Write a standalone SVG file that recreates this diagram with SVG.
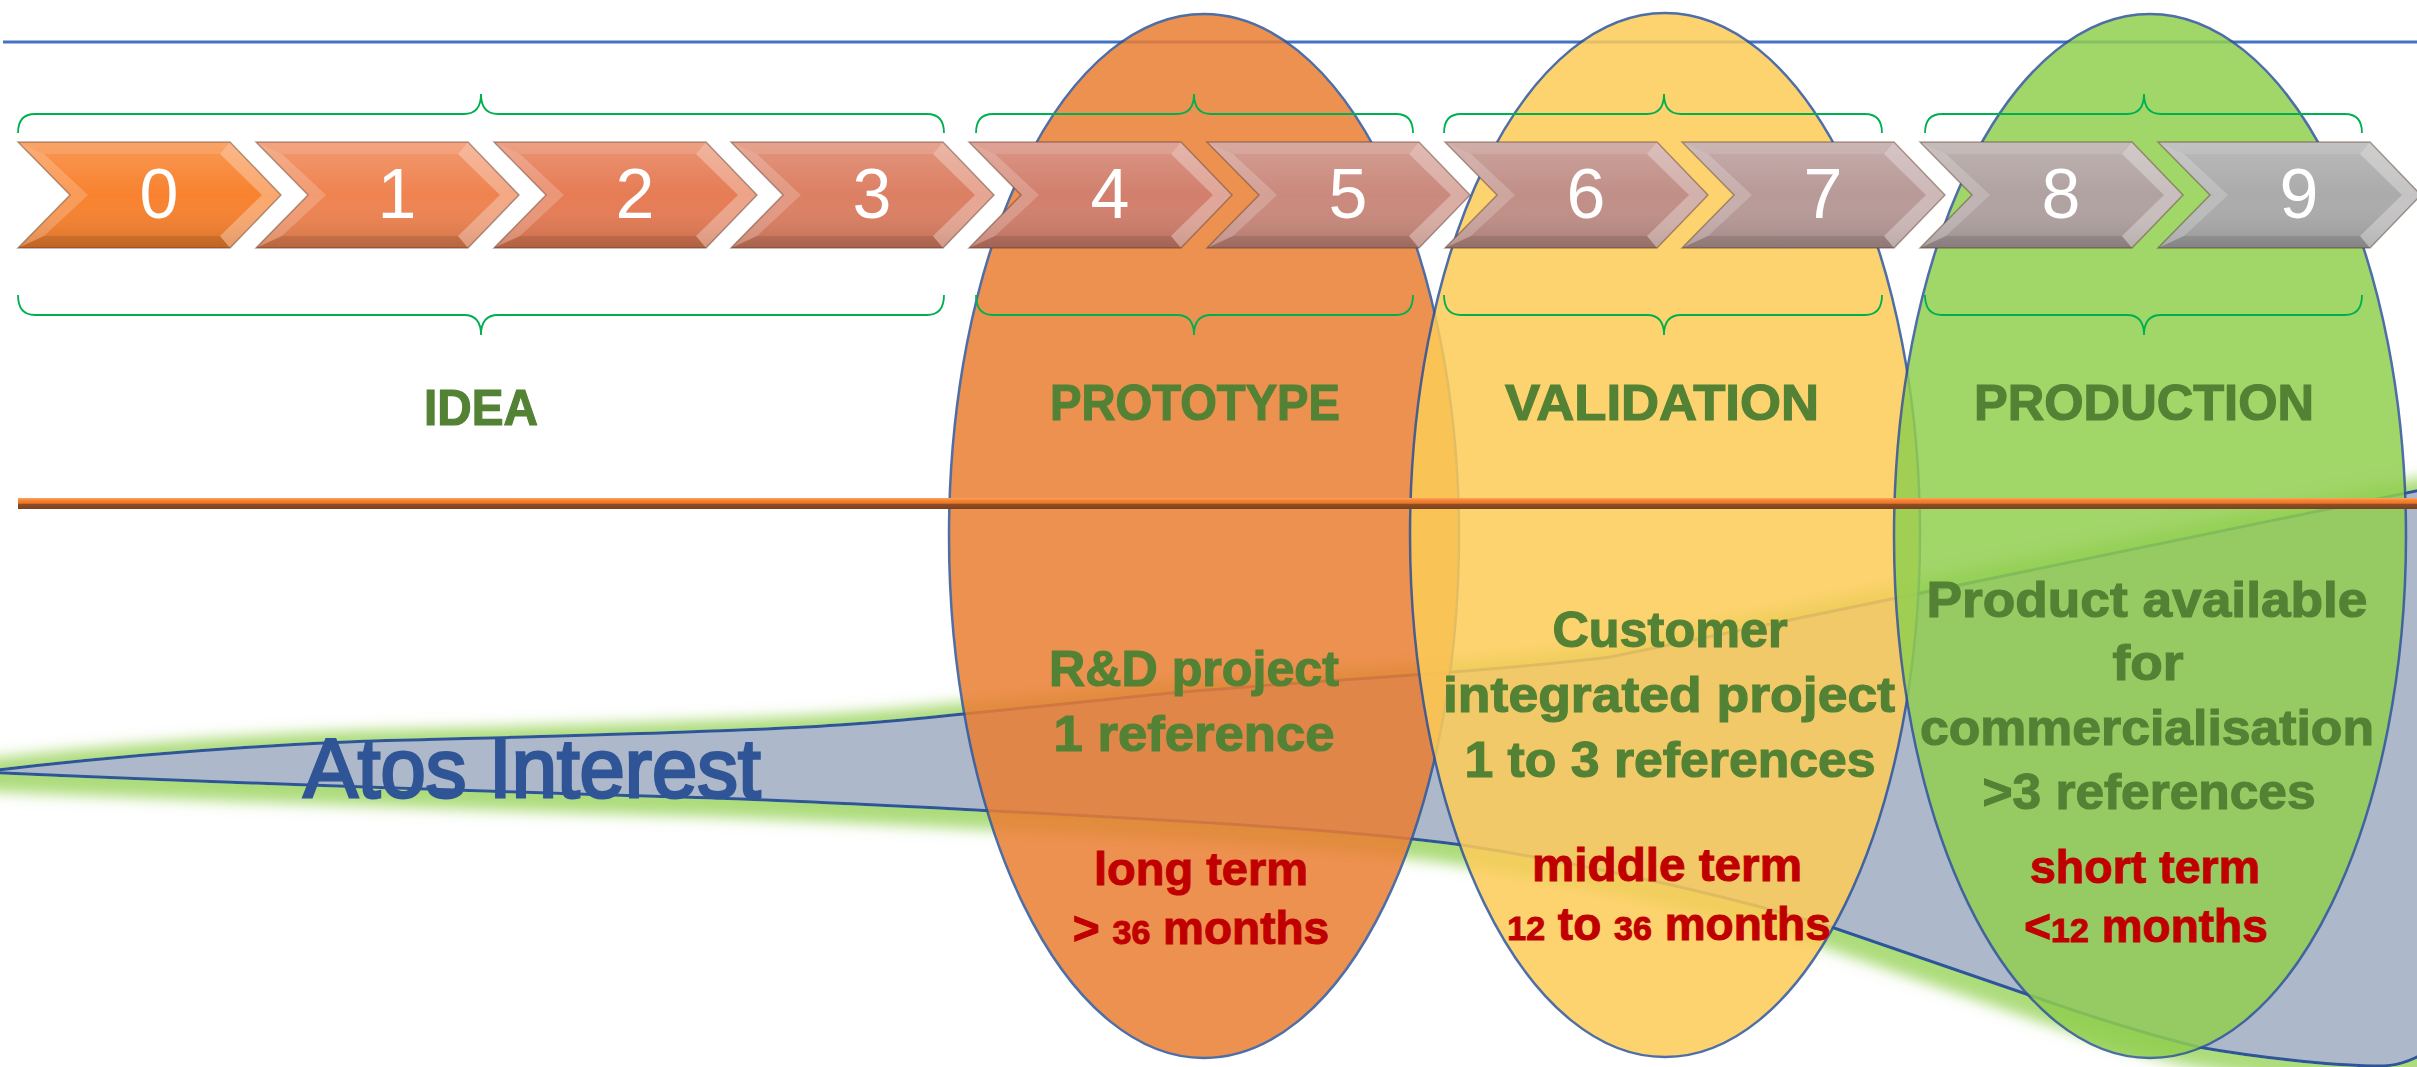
<svg xmlns="http://www.w3.org/2000/svg" xmlns:xlink="http://www.w3.org/1999/xlink" width="2417" height="1067" viewBox="0 0 2417 1067">
<style>
.num{font-family:"Liberation Sans",Arial,sans-serif;font-size:70px;fill:#fff;text-anchor:middle}
.phase{font-family:"Liberation Sans",Arial,sans-serif;font-weight:bold;font-size:50px;fill:#548235;stroke:#548235;stroke-width:1.2;text-anchor:middle}
.gt{font-family:"Liberation Sans",Arial,sans-serif;font-weight:bold;font-size:50px;fill:#548235;stroke:#548235;stroke-width:1.2;text-anchor:middle}
.rt{font-family:"Liberation Sans",Arial,sans-serif;font-weight:bold;font-size:46px;fill:#C00000;stroke:#C00000;stroke-width:1;text-anchor:middle}
.sm{font-size:34px}
.brace{fill:none;stroke:#00B050;stroke-width:1.8}
.ell{stroke:#2F5597;stroke-width:2.5;opacity:0.85}
.fl{fill:#fff;opacity:0.2}
.fr{fill:#fff;opacity:0.3}
.ft{fill:#fff;opacity:0.12}
.fb{fill:#000;opacity:0.1}
.ol{fill:none;stroke:#5a3a2a;stroke-opacity:0.45;stroke-width:1.5}
</style>
<defs>
<path id="chev" d="M0,0 H212 L263,53 L212,106 H0 L52,53 Z"/>
<path id="fl" d="M0,0 L52,53 L0,106 L26,94 L70,53 L26,12 Z"/>
<path id="fr" d="M212,0 L263,53 L212,106 L202,94 L244,53 L202,12 Z"/>
<path id="ft" d="M0,0 H212 L202,12 H26 Z"/>
<path id="fb" d="M0,106 H212 L202,94 H26 Z"/>
<linearGradient id="sh" x1="0" y1="0" x2="0" y2="1">
<stop offset="0" stop-color="#fff" stop-opacity="0.18"/>
<stop offset="0.5" stop-color="#fff" stop-opacity="0"/>
<stop offset="1" stop-color="#000" stop-opacity="0.14"/>
</linearGradient>
<linearGradient id="oline" x1="0" y1="0" x2="0" y2="1">
<stop offset="0" stop-color="#FCA569"/>
<stop offset="0.2" stop-color="#F7852F"/>
<stop offset="0.48" stop-color="#EA7728"/>
<stop offset="0.55" stop-color="#8F4E26"/>
<stop offset="1" stop-color="#7A4120"/>
</linearGradient>
<filter id="glow" x="-5%" y="-40%" width="110%" height="180%">
<feMorphology in="SourceAlpha" operator="dilate" radius="13" result="d"/>
<feGaussianBlur in="d" stdDeviation="7" result="b"/>
<feOffset in="b" dy="4" result="o"/>
<feFlood flood-color="#92D050" flood-opacity="0.75"/>
<feComposite in2="o" operator="in" result="g"/>
<feMerge><feMergeNode in="g"/><feMergeNode in="SourceGraphic"/></feMerge>
</filter>
</defs>
<rect width="2417" height="1067" fill="#fff"/>
<line id="top-line" x1="3" y1="42" x2="2417" y2="42" stroke="#4472C4" stroke-width="3"/>
<g id="atos-interest">
<path filter="url(#glow)" fill="#ADB9CA" stroke="#2F5597" stroke-width="3" d="M -20,772 C 120,755 280,743 408,740 C 560,736 700,733 804,727 C 900,722 1000,710 1161,694 C 1300,681 1480,673 1610,657 L 2430,488 L 2430,1050 C 2410,1062 2395,1067 2372,1066 C 2330,1065 2260,1058 2198,1047 C 2130,1030 2060,1006 2029,995 L 1834,928 C 1740,899 1600,866 1462,845 C 1380,834 1250,825 1161,820 C 1000,811 850,803 714,798 C 500,792 250,784 -20,772 Z"/>
<text x="532" y="797" font-family="'Liberation Sans',Arial,sans-serif" font-size="84" fill="#2F5597" stroke="#2F5597" stroke-width="3" text-anchor="middle" textLength="457" lengthAdjust="spacingAndGlyphs">Atos Interest</text>
</g>
<g id="ellipse-prototype">
<ellipse class="ell" cx="1204" cy="536" rx="255" ry="522" fill="#EB7E33"/>
</g>
<g id="ellipse-validation">
<ellipse class="ell" cx="1665" cy="535" rx="255" ry="522" fill="#FDCC58"/>
</g>
<g id="ellipse-production">
<ellipse class="ell" cx="2150" cy="536" rx="256" ry="522" fill="#91CF50"/>
</g>
<rect id="orange-line" x="18" y="498" width="2399" height="11" fill="url(#oline)"/>
<g id="chevron-0" transform="translate(18,142)"><use href="#chev" fill="#F8822F"/><use href="#chev" fill="url(#sh)"/><use href="#fl" class="fl"/><use href="#fr" class="fr"/><use href="#ft" class="ft"/><use href="#fb" class="fb"/><use href="#chev" class="ol"/><text class="num" x="141" y="76">0</text></g>
<g id="chevron-1" transform="translate(256,142)"><use href="#chev" fill="#EF8350"/><use href="#chev" fill="url(#sh)"/><use href="#fl" class="fl"/><use href="#fr" class="fr"/><use href="#ft" class="ft"/><use href="#fb" class="fb"/><use href="#chev" class="ol"/><text class="num" x="141" y="76">1</text></g>
<g id="chevron-2" transform="translate(494,142)"><use href="#chev" fill="#E67C55"/><use href="#chev" fill="url(#sh)"/><use href="#fl" class="fl"/><use href="#fr" class="fr"/><use href="#ft" class="ft"/><use href="#fb" class="fb"/><use href="#chev" class="ol"/><text class="num" x="141" y="76">2</text></g>
<g id="chevron-3" transform="translate(731,142)"><use href="#chev" fill="#DC7F63"/><use href="#chev" fill="url(#sh)"/><use href="#fl" class="fl"/><use href="#fr" class="fr"/><use href="#ft" class="ft"/><use href="#fb" class="fb"/><use href="#chev" class="ol"/><text class="num" x="141" y="76">3</text></g>
<g id="chevron-4" transform="translate(969,142)"><use href="#chev" fill="#D27F6C"/><use href="#chev" fill="url(#sh)"/><use href="#fl" class="fl"/><use href="#fr" class="fr"/><use href="#ft" class="ft"/><use href="#fb" class="fb"/><use href="#chev" class="ol"/><text class="num" x="141" y="76">4</text></g>
<g id="chevron-5" transform="translate(1207,142)"><use href="#chev" fill="#CA897C"/><use href="#chev" fill="url(#sh)"/><use href="#fl" class="fl"/><use href="#fr" class="fr"/><use href="#ft" class="ft"/><use href="#fb" class="fb"/><use href="#chev" class="ol"/><text class="num" x="141" y="76">5</text></g>
<g id="chevron-6" transform="translate(1445,142)"><use href="#chev" fill="#C08F87"/><use href="#chev" fill="url(#sh)"/><use href="#fl" class="fl"/><use href="#fr" class="fr"/><use href="#ft" class="ft"/><use href="#fb" class="fb"/><use href="#chev" class="ol"/><text class="num" x="141" y="76">6</text></g>
<g id="chevron-7" transform="translate(1682,142)"><use href="#chev" fill="#B89A98"/><use href="#chev" fill="url(#sh)"/><use href="#fl" class="fl"/><use href="#fr" class="fr"/><use href="#ft" class="ft"/><use href="#fb" class="fb"/><use href="#chev" class="ol"/><text class="num" x="141" y="76">7</text></g>
<g id="chevron-8" transform="translate(1920,142)"><use href="#chev" fill="#B0A2A1"/><use href="#chev" fill="url(#sh)"/><use href="#fl" class="fl"/><use href="#fr" class="fr"/><use href="#ft" class="ft"/><use href="#fb" class="fb"/><use href="#chev" class="ol"/><text class="num" x="141" y="76">8</text></g>
<g id="chevron-9" transform="translate(2158,142)"><use href="#chev" fill="#ABABAB"/><use href="#chev" fill="url(#sh)"/><use href="#fl" class="fl"/><use href="#fr" class="fr"/><use href="#ft" class="ft"/><use href="#fb" class="fb"/><use href="#chev" class="ol"/><text class="num" x="141" y="76">9</text></g>
<g id="braces">
<path class="brace" d="M18,133 C18,121 23,114 35,114 H464 C475,114 481,108 481,94 C481,108 487,114 498,114 H927 C939,114 944,121 944,133"/>
<path class="brace" d="M18,295 C18,307 23,315 35,315 H464 C475,315 481,321 481,335 C481,321 487,315 498,315 H927 C939,315 944,307 944,295"/>
<path class="brace" d="M976,133 C976,121 981,114 993,114 H1177 C1188,114 1194,108 1194,94 C1194,108 1200,114 1211,114 H1396 C1408,114 1413,121 1413,133"/>
<path class="brace" d="M976,295 C976,307 981,315 993,315 H1177 C1188,315 1194,321 1194,335 C1194,321 1200,315 1211,315 H1396 C1408,315 1413,307 1413,295"/>
<path class="brace" d="M1444,133 C1444,121 1449,114 1461,114 H1647 C1658,114 1664,108 1664,94 C1664,108 1670,114 1681,114 H1865 C1877,114 1882,121 1882,133"/>
<path class="brace" d="M1444,295 C1444,307 1449,315 1461,315 H1647 C1658,315 1664,321 1664,335 C1664,321 1670,315 1681,315 H1865 C1877,315 1882,307 1882,295"/>
<path class="brace" d="M1925,133 C1925,121 1930,114 1942,114 H2127 C2138,114 2144,108 2144,94 C2144,108 2150,114 2161,114 H2345 C2357,114 2362,121 2362,133"/>
<path class="brace" d="M1925,295 C1925,307 1930,315 1942,315 H2127 C2138,315 2144,321 2144,335 C2144,321 2150,315 2161,315 H2345 C2357,315 2362,307 2362,295"/>
</g>
<g id="phase-idea"><text class="phase" x="481" y="425" textLength="114" lengthAdjust="spacingAndGlyphs">IDEA</text></g>
<g id="phase-prototype">
<text class="phase" x="1195" y="420" textLength="290" lengthAdjust="spacingAndGlyphs">PROTOTYPE</text>
<text class="gt" x="1194" y="686" textLength="290" lengthAdjust="spacingAndGlyphs">R&amp;D project</text>
<text class="gt" x="1194" y="751" textLength="281" lengthAdjust="spacingAndGlyphs">1 reference</text>
<text class="rt" x="1201" y="885" textLength="214" lengthAdjust="spacingAndGlyphs">long term</text>
<text class="rt" x="1201" y="944">&gt; <tspan class="sm">36</tspan> months</text>
</g>
<g id="phase-validation">
<text class="phase" x="1662" y="420" textLength="314" lengthAdjust="spacingAndGlyphs">VALIDATION</text>
<text class="gt" x="1670" y="647" textLength="235" lengthAdjust="spacingAndGlyphs">Customer</text>
<text class="gt" x="1669" y="712" textLength="452" lengthAdjust="spacingAndGlyphs">integrated project</text>
<text class="gt" x="1670" y="777" textLength="411" lengthAdjust="spacingAndGlyphs">1 to 3 references</text>
<text class="rt" x="1667" y="881" textLength="270" lengthAdjust="spacingAndGlyphs">middle term</text>
<text class="rt" x="1669" y="940"><tspan class="sm">12</tspan> to <tspan class="sm">36</tspan> months</text>
</g>
<g id="phase-production">
<text class="phase" x="2144" y="420" textLength="340" lengthAdjust="spacingAndGlyphs">PRODUCTION</text>
<text class="gt" x="2147" y="617" textLength="441" lengthAdjust="spacingAndGlyphs">Product available</text>
<text class="gt" x="2148" y="680" textLength="71" lengthAdjust="spacingAndGlyphs">for</text>
<text class="gt" x="2147" y="745" textLength="454" lengthAdjust="spacingAndGlyphs">commercialisation</text>
<text class="gt" x="2149" y="809" textLength="333" lengthAdjust="spacingAndGlyphs">&gt;3 references</text>
<text class="rt" x="2145" y="883" textLength="230" lengthAdjust="spacingAndGlyphs">short term</text>
<text class="rt" x="2146" y="942">&lt;<tspan class="sm">12</tspan> months</text>
</g>
</svg>
